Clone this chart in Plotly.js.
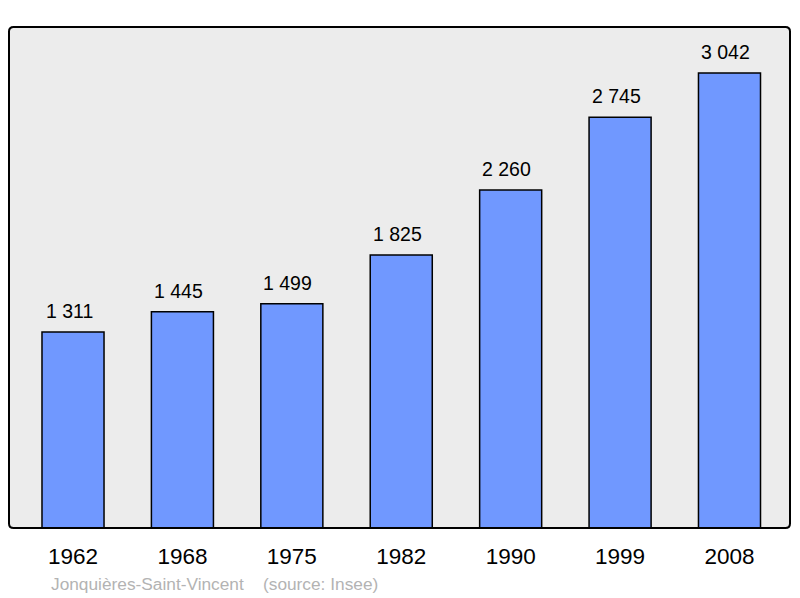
<!DOCTYPE html>
<html><head><meta charset="utf-8">
<script src="https://cdn.plot.ly/plotly-3.0.1.min.js"></script>
<style>html,body{margin:0;padding:0;background:#fff}#c{width:800px;height:598px}</style>
</head><body><div id="c"></div>
<script>
const years = ["1962","1968","1975","1982","1990","1999","2008"];
const population = [1311,1445,1499,1825,2260,2745,3042];
const valueLabels = ["1 311","1 445","1 499","1 825","2 260","2 745","3 042"];
const placeName = "Jonquières-Saint-Vincent";
const sourceText = "(source: Insee)";
const FONT = "Liberation Sans, Arial, sans-serif";

const trace = {
  type: "bar", x: years, y: population, width: 0.567,
  marker: {color: "#7098ff", line: {color: "#000", width: 1.5}},
  hoverinfo: "none"
};
const ann = years.map((y,i)=>({
  x: i, y: population[i], xref: "x", yref: "y", text: valueLabels[i],
  showarrow: false, yanchor: "bottom", yshift: 8, xshift: -4,
  font: {family: FONT, size: 19.5, color: "#000"}
}));
ann.push({xref:"paper", yref:"paper", x:0.0512, y:-0.112, xanchor:"left", yanchor:"middle", showarrow:false,
  text: placeName, font:{family:FONT, size:17.3, color:"#b3b3b3"}});
ann.push({xref:"paper", yref:"paper", x:0.3227, y:-0.112, xanchor:"left", yanchor:"middle", showarrow:false,
  text: sourceText, font:{family:FONT, size:17.3, color:"#b3b3b3"}});

const r = 0.006, ry = 0.009;
const framePath = `M ${r},0 L ${1-r},0 Q 1,0 1,${ry} L 1,${1-ry} Q 1,1 ${1-r},1 L ${r},1 Q 0,1 0,${1-ry} L 0,${ry} Q 0,0 ${r},0 Z`;

const layout = {
  width: 800, height: 598,
  margin: {l: 9, r: 10, t: 27, b: 70},
  paper_bgcolor: "#fff", plot_bgcolor: "#ececec",
  showlegend: false,
  xaxis: {type: "category", range: [-0.585, 6.553], showgrid: false, zeroline: false, showline: false,
    ticks: "", ticklabelstandoff: 12,
    tickfont: {family: FONT, size: 22.5, color: "#000"}},
  yaxis: {range: [0, 3349], showgrid: false, zeroline: false, showline: false, showticklabels: false, ticks: ""},
  annotations: ann,
  shapes: [{type: "path", xref: "paper", yref: "paper", path: framePath, line: {color: "#000", width: 2}, layer: "above"}]
};
Plotly.newPlot("c", [trace], layout, {staticPlot: true});
</script></body></html>
